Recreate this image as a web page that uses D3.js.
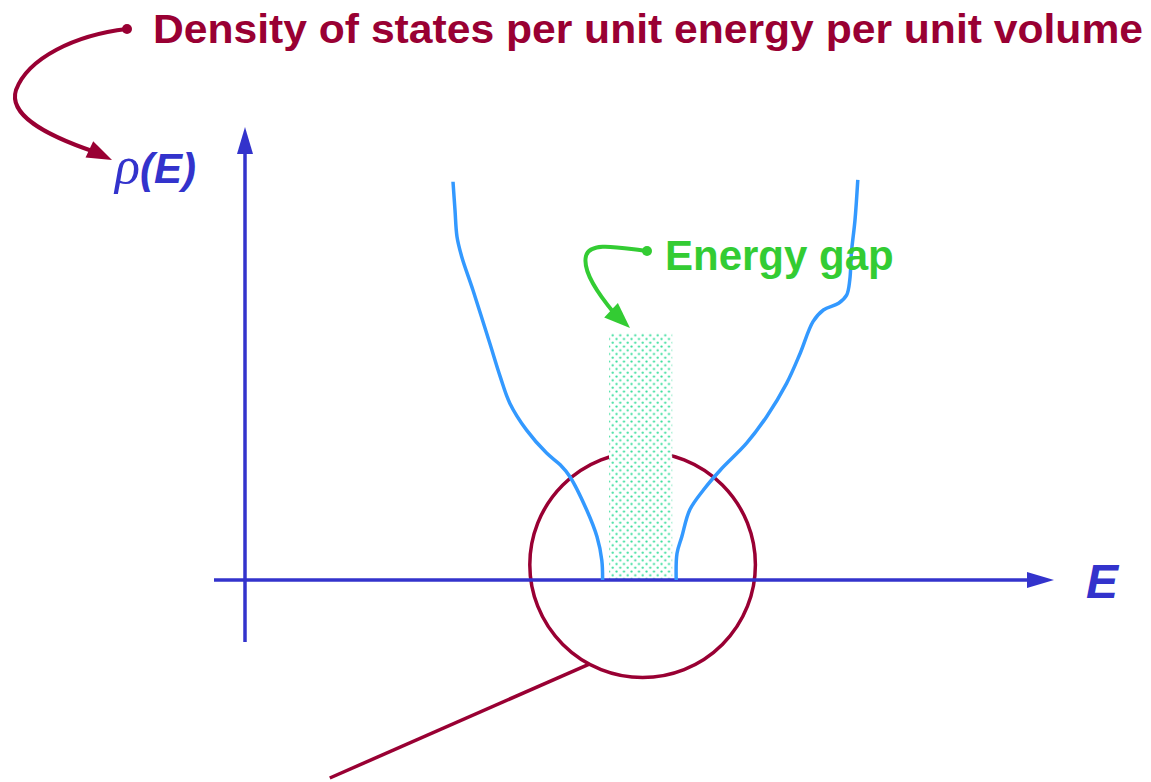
<!DOCTYPE html>
<html>
<head>
<meta charset="utf-8">
<script src="https://cdn.jsdelivr.net/npm/d3@7"></script>
<style>
  html, body { margin: 0; padding: 0; background: #fff; }
  svg { display: block; }
</style>
</head>
<body>
<script>
// Density of states with an energy gap (schematic)
const width = 1151, height = 782;

// data (energy units, density units)
const valenceE   = [2.60, 2.625, 2.65, 2.71, 2.85, 3.06, 3.19, 3.31, 3.52, 3.77, 3.94, 4.06, 4.27, 4.40, 4.46, 4.47];
const valenceRho = [8.85, 8.22, 7.63, 7.18, 6.44, 5.26, 4.52, 3.93, 3.33, 2.82, 2.56, 2.30, 1.56, 0.96, 0.44, 0];
const conductionE   = [5.39, 5.40, 5.46, 5.56, 5.73, 5.94, 6.27, 6.52, 6.77, 6.94, 7.10, 7.23, 7.42, 7.52, 7.56, 7.58, 7.625, 7.66];
const conductionRho = [0, 0.59, 0.96, 1.56, 2.0, 2.44, 3.04, 3.63, 4.37, 5.04, 5.74, 6.0, 6.15, 6.33, 6.67, 7.27, 8.0, 8.89];
const gapRange = [4.55, 5.34];   // energy gap edges
const gapTop = 5.49;
const zoomCircle = { e: 4.97, rho: 0.34, r: 1.41 };  // circled region (r in energy units)
const leaderEnd = { e: 1.06, rho: -4.4 };

const maroon = "#990033", blue = "#3333cc", curveBlue = "#3399ff", green = "#33cc33";

const x = d3.scaleLinear().domain([0, 10]).range([245, 1045]);
const y = d3.scaleLinear().domain([0, 10]).range([580, 130]);

const svg = d3.select("body").append("svg")
    .attr("width", width)
    .attr("height", height);

const defs = svg.append("defs");
const pat = defs.append("pattern")
    .attr("id", "dots")
    .attr("patternUnits", "userSpaceOnUse")
    .attr("width", 7.5).attr("height", 7.5);
pat.append("rect").attr("width", 7.5).attr("height", 7.5).attr("fill", "#fff");
pat.append("circle").attr("cx", 1.5).attr("cy", 1.5).attr("r", 1.1).attr("fill", "#33dd99");
pat.append("circle").attr("cx", 5.25).attr("cy", 5.25).attr("r", 1.1).attr("fill", "#33dd99");

// simple arrow head helper
function arrowHead(g, tip, from, len, hw, color) {
    const dx = tip[0] - from[0], dy = tip[1] - from[1];
    const d = Math.sqrt(dx * dx + dy * dy);
    const ux = dx / d, uy = dy / d;
    const bx = tip[0] - ux * len, by = tip[1] - uy * len;
    g.append("polygon")
        .attr("points", [[tip[0], tip[1]], [bx - uy * hw, by + ux * hw], [bx + uy * hw, by - ux * hw]].map(p => p.join(",")).join(" "))
        .attr("fill", color);
}

// circle around gap region
const cx = x(zoomCircle.e), cy = y(zoomCircle.rho), cr = x(zoomCircle.r) - x(0);
svg.append("circle")
    .attr("cx", cx).attr("cy", cy).attr("r", cr)
    .attr("fill", "none").attr("stroke", maroon).attr("stroke-width", 3.5);

// leader line from circle
const lx = x(leaderEnd.e), ly = y(leaderEnd.rho);
const ang = Math.atan2(ly - cy, lx - cx) - 0.48;
svg.append("line")
    .attr("x1", cx + cr * Math.cos(ang)).attr("y1", cy + cr * Math.sin(ang))
    .attr("x2", lx).attr("y2", ly)
    .attr("stroke", maroon).attr("stroke-width", 3.5);

// energy gap block
svg.append("rect")
    .attr("x", x(gapRange[0])).attr("y", y(gapTop))
    .attr("width", x(gapRange[1]) - x(gapRange[0]))
    .attr("height", y(0) - y(gapTop))
    .attr("fill", "url(#dots)");

// axes
const axes = svg.append("g");
axes.append("line").attr("x1", 214).attr("y1", y(0)).attr("x2", 1030).attr("y2", y(0))
    .attr("stroke", blue).attr("stroke-width", 3.5);
arrowHead(axes, [1054, y(0)], [1000, y(0)], 27, 8, blue);
axes.append("line").attr("x1", x(0)).attr("y1", 642).attr("x2", x(0)).attr("y2", 150)
    .attr("stroke", blue).attr("stroke-width", 3.5);
arrowHead(axes, [x(0), 127], [x(0), 200], 27, 8, blue);

// DOS curves
const line = d3.line().x(d => x(d[0])).y(d => y(d[1])).curve(d3.curveCatmullRom.alpha(0.5));
[[valenceE, valenceRho], [conductionE, conductionRho]].forEach(([es, rs]) => {
    svg.append("path")
        .datum(es.map((e, i) => [e, rs[i]]))
        .attr("d", line)
        .attr("fill", "none")
        .attr("stroke", curveBlue)
        .attr("stroke-width", 3.5);
});

// axis labels
svg.append("text")
    .attr("x", 1086).attr("y", 598)
    .attr("font-family", "Liberation Sans, Arial, sans-serif")
    .attr("font-weight", "bold").attr("font-style", "italic")
    .attr("font-size", 48).attr("fill", blue)
    .text("E");

const rhoLabel = svg.append("text")
    .attr("x", 115).attr("y", 183)
    .attr("fill", blue);
rhoLabel.append("tspan")
    .attr("font-family", "Liberation Serif, Times New Roman, serif")
    .attr("font-style", "italic").attr("font-size", 52)
    .text("ρ");
rhoLabel.append("tspan")
    .attr("font-family", "Liberation Sans, Arial, sans-serif")
    .attr("font-weight", "bold").attr("font-style", "italic").attr("font-size", 42)
    .text("(E)");

// title annotation
svg.append("text")
    .attr("x", 153).attr("y", 43)
    .attr("font-family", "Liberation Sans, Arial, sans-serif")
    .attr("font-weight", "bold").attr("font-size", 41)
    .attr("textLength", 990).attr("lengthAdjust", "spacingAndGlyphs")
    .attr("fill", maroon)
    .text("Density of states per unit energy per unit volume");

const ann = svg.append("g");
ann.append("circle").attr("cx", 127).attr("cy", 29).attr("r", 5).attr("fill", maroon);
ann.append("path")
    .attr("d", "M127,29 C75,35 28,58 16,90 C8,115 45,135 95,152")
    .attr("fill", "none").attr("stroke", maroon).attr("stroke-width", 4);
arrowHead(ann, [112, 160], [95, 152], 25, 9, maroon);

// energy gap annotation
svg.append("text")
    .attr("x", 665).attr("y", 270)
    .attr("font-family", "Liberation Sans, Arial, sans-serif")
    .attr("font-weight", "bold").attr("font-size", 42)
    .attr("fill", green)
    .text("Energy gap");
ann.append("circle").attr("cx", 647).attr("cy", 251).attr("r", 5).attr("fill", green);
ann.append("path")
    .attr("d", "M647,251 C620,248 590,241 586,256 C582,272 600,296 614,313")
    .attr("fill", "none").attr("stroke", green).attr("stroke-width", 4);
arrowHead(ann, [630, 328], [614, 313], 26, 10, green);
</script>
</body>
</html>
